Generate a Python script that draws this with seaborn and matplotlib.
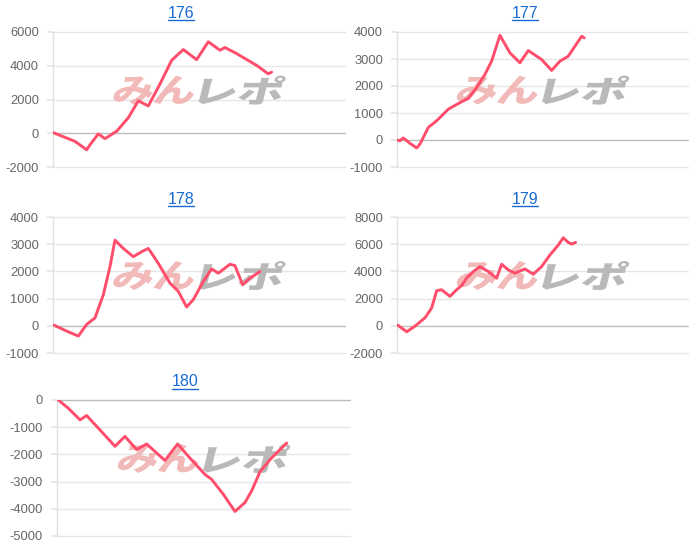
import numpy as np
import pandas as pd
import matplotlib
matplotlib.use("Agg")
import matplotlib.pyplot as plt
from matplotlib.lines import Line2D
from matplotlib.textpath import TextPath
from matplotlib.patches import PathPatch
from matplotlib.font_manager import FontProperties
from matplotlib.transforms import Affine2D, IdentityTransform
import seaborn as sns

# ---- data (x = games played, y = cumulative difference) ----
titles = ["176", "177", "178", "179", "180"]

x176 = [0, 603, 922, 1014, 1242, 1424, 1744, 2063, 2337, 2611, 2931, 3250, 3570, 3935,
        4255, 4574, 4711, 5031, 5579, 5898, 5989]
y176 = [40, -480, -980, -680, -40, -320, 120, 920, 1920, 1620, 2920, 4320, 4960, 4360,
        5420, 4920, 5080, 4720, 4020, 3520, 3620]

x177 = [0, 82, 174, 357, 540, 632, 861, 1090, 1410, 1685, 1960, 2189, 2418, 2601, 2830,
        3105, 3380, 3609, 3975, 4250, 4479, 4708, 4983, 5074, 5148]
y177 = [0, -25, 74, -123, -295, -147, 466, 712, 1141, 1350, 1546, 1939, 2430, 2920, 3877,
        3227, 2859, 3313, 2982, 2577, 2920, 3104, 3656, 3840, 3780]

x178 = [27, 374, 694, 922, 1150, 1379, 1561, 1698, 1926, 2200, 2429, 2611, 2885, 3205,
        3433, 3661, 3844, 4118, 4346, 4529, 4848, 4985, 5195, 5396, 5670]
y178 = [24, -195, -377, 49, 292, 1143, 2177, 3149, 2845, 2541, 2724, 2845, 2298, 1569,
        1265, 693, 961, 1629, 2092, 1933, 2262, 2213, 1508, 1751, 1994]

x179 = [18, 266, 495, 769, 953, 1090, 1227, 1456, 1640, 1777, 1914, 2098, 2281, 2510,
        2739, 2876, 3059, 3243, 3517, 3746, 3975, 4204, 4433, 4571, 4708, 4800, 4910]
y179 = [49, -438, -24, 584, 1314, 2579, 2652, 2165, 2652, 2968, 3504, 3990, 4355, 3990,
        3504, 4525, 4112, 3869, 4185, 3796, 4355, 5206, 5936, 6472, 6131, 6010, 6131]

x180 = [36, 309, 628, 810, 1128, 1583, 1856, 2175, 2448, 2948, 3294, 3585, 4040, 4222,
        4541, 4859, 5132, 5314, 5542, 5860, 6270]
y180 = [0, -304, -730, -572, -1034, -1702, -1338, -1824, -1617, -2225, -1617, -2067,
        -2736, -2918, -3466, -4098, -3770, -3344, -2639, -2128, -1581]

yticks176 = [-2000, 0, 2000, 4000, 6000]
yticks177 = [-1000, 0, 1000, 2000, 3000, 4000]
yticks178 = [-1000, 0, 1000, 2000, 3000, 4000]
yticks179 = [-2000, 0, 2000, 4000, 6000, 8000]
yticks180 = [-5000, -4000, -3000, -2000, -1000, 0]

xs = [x176, x177, x178, x179, x180]
ys = [y176, y177, y178, y179, y180]
yticks = [yticks176, yticks177, yticks178, yticks179, yticks180]
x_max = 8000

watermark_left = "みん"
watermark_right = "レポ"

# ---- style ----
sns.set_theme(style="white")
plt.rcParams["font.family"] = ["Liberation Sans", "DejaVu Sans"]

W, H = 700, 549
fig = plt.figure(figsize=(W / 100, H / 100), dpi=100)

# axes boxes in pixels: left, right, top, bottom ; and panel cell (x0, x1) for titles
boxes = [(53, 345, 32, 167), (397, 688, 32, 167),
         (53, 345, 217, 353), (397, 688, 217, 353),
         (57, 350, 400, 536)]
cells = [(0, 362), (350, 700), (0, 362), (350, 700), (0, 370)]
title_y = [13, 13, 199, 199, 382]

line_color = "#ff4d6b"
grid_color = "#e6e6e6"
wm_prop = FontProperties(family="Noto Sans CJK JP", weight="heavy")


def add_watermark(ax, text, color, anchor_px, width_px, height_px, align):
    tp = TextPath((0, 0), text, size=40, prop=wm_prop)
    ext = tp.get_extents()
    sx = width_px / ext.width
    sy = height_px / ext.height
    tr = (Affine2D().translate(-ext.x0, -ext.y0).scale(sx, sy)
          .translate(0, -height_px / 2).skew_deg(14, 0))
    if align == "right":
        tr = tr.translate(-width_px, 0)
    tr = tr.translate(anchor_px[0], anchor_px[1])
    patch = PathPatch(tp, transform=tr, facecolor=color, edgecolor="none",
                      zorder=2, clip_on=False)
    ax.add_artist(patch)


title_texts = []
for i in range(5):
    l, r, t, b = boxes[i]
    ax = fig.add_axes([l / W, 1 - b / H, (r - l) / W, (b - t) / H])
    df = pd.DataFrame({"games": xs[i], "diff": ys[i]})
    sns.lineplot(data=df, x="games", y="diff", ax=ax, color=line_color,
                 linewidth=2.1, zorder=5)
    ax.set_xlim(0, x_max)
    ax.set_ylim(min(yticks[i]), max(yticks[i]))
    ax.set_yticks(yticks[i])
    ax.set_yticklabels([str(v) for v in yticks[i]])
    ax.set_xticks([])
    ax.set_xlabel("")
    ax.set_ylabel("")
    for yv in yticks[i]:
        ax.axhline(yv, color="#bdbdbd" if yv == 0 else grid_color,
                   linewidth=1.0, zorder=1, clip_on=False)
    for s in ["top", "right", "bottom"]:
        ax.spines[s].set_visible(False)
    ax.spines["left"].set_color("#e0e0e0")
    ax.spines["left"].set_linewidth(1.0)
    ax.tick_params(axis="y", length=4, color=grid_color, pad=6,
                   labelsize=9.3, labelcolor="#666666", left=True)
    ax.patch.set_alpha(0)

    # watermark (display-pixel anchored at axes centre, slightly above middle)
    cx = (l + r) / 2
    cy = H - (t + (b - t) * 0.43)
    add_watermark(ax, watermark_left, "#f2b9b9", (cx - 4, cy), 80, 29, "right")
    add_watermark(ax, watermark_right, "#b9b9b9", (cx + 2, cy), 82, 29, "left")

    c0, c1 = cells[i]
    tt = fig.text((c0 + c1) / 2 / W, 1 - title_y[i] / H, titles[i], ha="center",
                  va="center", fontsize=11.5, color="#1a6ad2")
    title_texts.append(tt)

# underline titles
fig.canvas.draw()
renderer = fig.canvas.get_renderer()
for tt in title_texts:
    bb = tt.get_window_extent(renderer)
    yline = (bb.y0 + 0.5) / H
    fig.add_artist(Line2D([bb.x0 / W, bb.x1 / W], [yline, yline],
                          transform=fig.transFigure, color="#1a6ad2", linewidth=1.0))

fig.savefig("out.png", dpi=100)
